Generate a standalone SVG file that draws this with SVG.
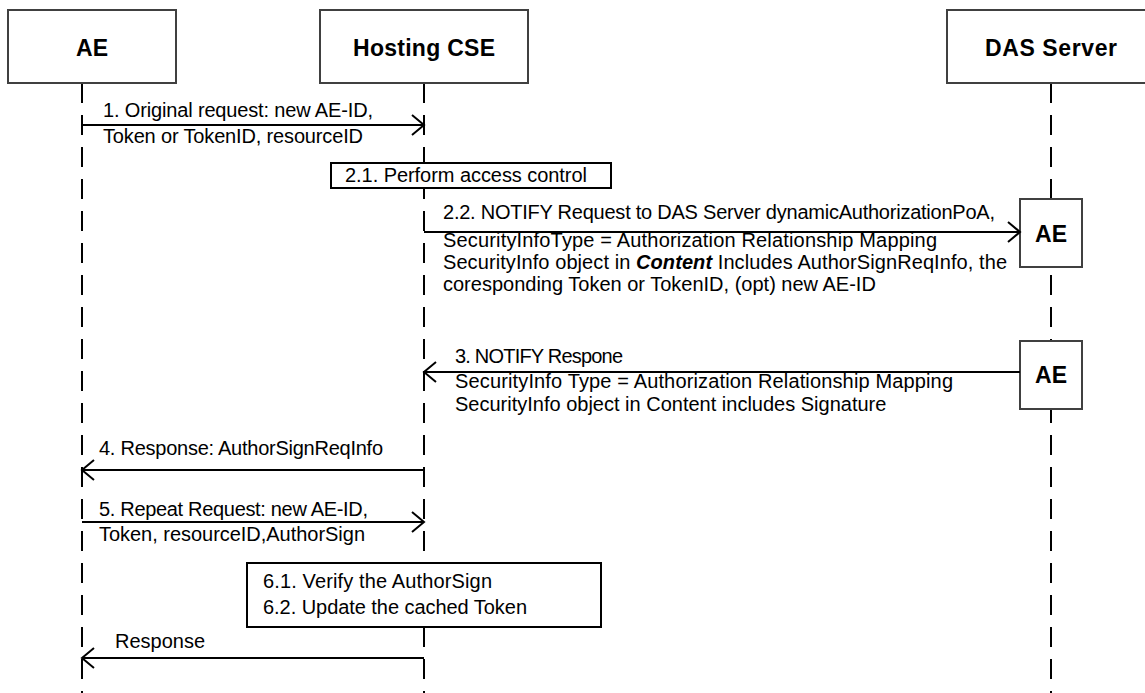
<svg xmlns="http://www.w3.org/2000/svg" width="1145" height="693" viewBox="0 0 1145 693">
<style>
.hdr{fill:#fff;stroke:#404040;stroke-width:2}
.box{fill:#fff;stroke:#000;stroke-width:2}
.life{stroke:#000;stroke-width:2;stroke-dasharray:20 12;fill:none}
.msg{stroke:#000;stroke-width:2;fill:none}
.h{font-family:"Liberation Sans",Arial,sans-serif;font-weight:bold;font-size:23px;fill:#000;text-anchor:middle}
.t{font-family:"Liberation Sans",Arial,sans-serif;font-size:20px;fill:#000}
</style>
<defs>
<marker id="ah" markerUnits="userSpaceOnUse" markerWidth="16" markerHeight="24" refX="13" refY="11" orient="auto" viewBox="0 0 16 24">
<path d="M1,1 L13,11 L1,21" fill="none" stroke="#000" stroke-width="2"/>
</marker>
</defs>
<rect width="1145" height="693" fill="#fff"/>
<g id="lifelines">
<line class="life" x1="82" y1="83" x2="82" y2="693"/>
<line class="life" x1="424" y1="83" x2="424" y2="693"/>
<line class="life" x1="1051" y1="83" x2="1051" y2="693"/>
</g>
<g id="node-ae">
<rect class="hdr" x="8" y="10" width="168" height="73"/>
<text class="h" x="92" y="56">AE</text>
</g>
<g id="node-hosting-cse">
<rect class="hdr" x="320" y="10" width="208" height="73"/>
<text class="h" x="424" y="56" textLength="142">Hosting CSE</text>
</g>
<g id="node-das-server">
<rect class="hdr" x="947" y="10" width="208" height="73"/>
<text class="h" x="1051" y="56" textLength="132">DAS Server</text>
</g>
<g id="node-das-ae-1">
<rect class="hdr" x="1020" y="199" width="62" height="68"/>
<text class="h" x="1051" y="242">AE</text>
</g>
<g id="node-das-ae-2">
<rect class="hdr" x="1020" y="341" width="62" height="68"/>
<text class="h" x="1051" y="383">AE</text>
</g>
<g id="node-step-2-1">
<rect class="box" x="331" y="163" width="280" height="25"/>
<text class="t" x="345" y="182" textLength="242">2.1. Perform access control</text>
</g>
<g id="node-step-6">
<rect class="box" x="247" y="563" width="354" height="64"/>
<text class="t" x="263" y="588" textLength="229">6.1. Verify the AuthorSign</text>
<text class="t" x="263" y="614" textLength="264">6.2. Update the cached Token</text>
</g>
<g id="connectors">
<line class="msg" x1="82" y1="125" x2="424" y2="125" marker-end="url(#ah)"/>
<line class="msg" x1="424" y1="232" x2="1020" y2="232" marker-end="url(#ah)"/>
<line class="msg" x1="1020" y1="372" x2="424" y2="372" marker-end="url(#ah)"/>
<line class="msg" x1="424" y1="470" x2="82" y2="470" marker-end="url(#ah)"/>
<line class="msg" x1="82" y1="522" x2="424" y2="522" marker-end="url(#ah)"/>
<line class="msg" x1="424" y1="658" x2="82" y2="658" marker-end="url(#ah)"/>
</g>
<g id="labels">
<text class="t" x="103" y="117" textLength="270">1. Original request: new AE-ID,</text>
<text class="t" x="103" y="143" textLength="260">Token or TokenID, resourceID</text>
<text class="t" x="443" y="219" textLength="552">2.2. NOTIFY Request to DAS Server dynamicAuthorizationPoA,</text>
<text class="t" x="443" y="247" textLength="494">SecurityInfoType = Authorization Relationship Mapping</text>
<text class="t" x="443" y="269" textLength="564">SecurityInfo object in <tspan font-weight="bold" font-style="italic">Content</tspan> Includes AuthorSignReqInfo, the</text>
<text class="t" x="443" y="291">coresponding Token or TokenID, (opt) new AE-ID</text>
<text class="t" x="455" y="363" textLength="168">3. NOTIFY Respone</text>
<text class="t" x="455" y="388" textLength="498">SecurityInfo Type = Authorization Relationship Mapping</text>
<text class="t" x="455" y="411">SecurityInfo object in Content includes Signature</text>
<text class="t" x="99" y="455" textLength="284">4. Response: AuthorSignReqInfo</text>
<text class="t" x="99" y="516" textLength="269">5. Repeat Request: new AE-ID,</text>
<text class="t" x="99" y="541" textLength="266">Token, resourceID,AuthorSign</text>
<text class="t" x="115" y="648">Response</text>
</g>
</svg>
